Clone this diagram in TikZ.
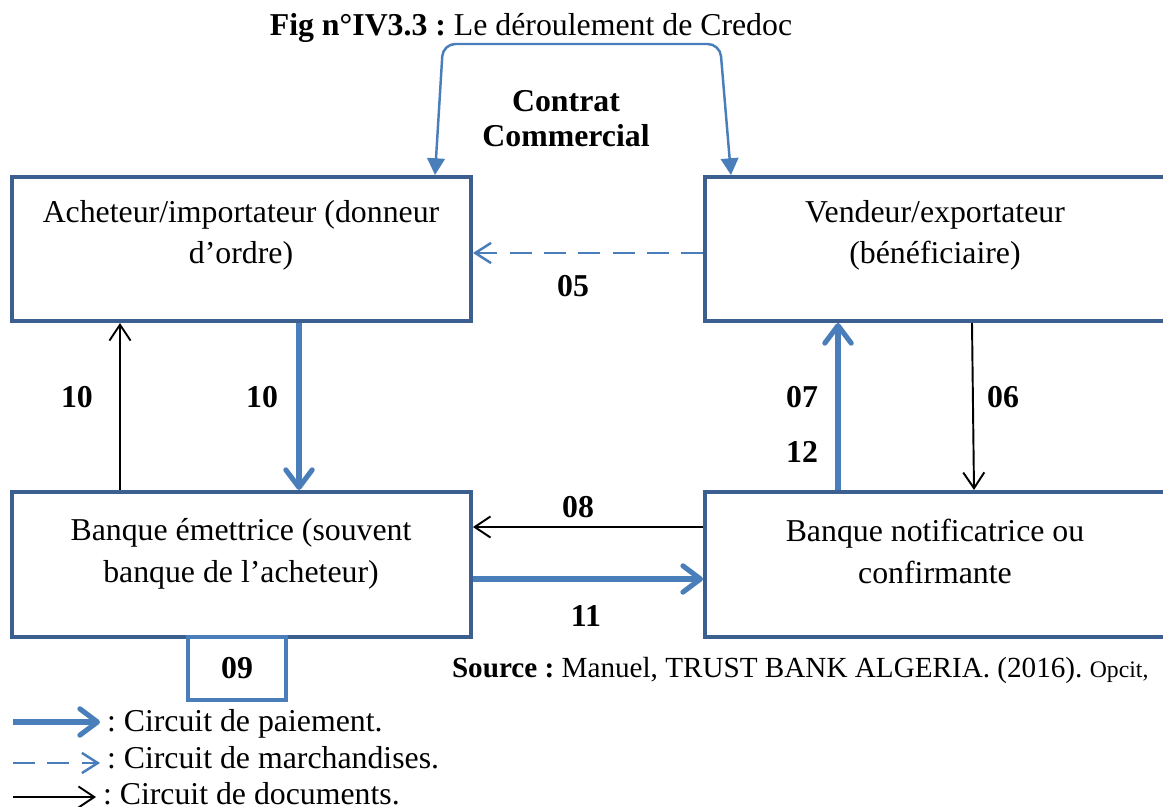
\documentclass[tikz,border=0pt]{standalone}
\usepackage{fontspec}
\setmainfont{Liberation Serif}
\usetikzlibrary{arrows.meta}
\definecolor{boxblue}{RGB}{59,95,142}
\definecolor{flowblue}{RGB}{74,126,187}
\frenchspacing

\begin{document}
\begin{tikzpicture}[x=0.02cm,y=-0.02cm,
  every node/.style={font=\fontsize{18.1}{23.5}\selectfont, inner sep=0pt, outer sep=0pt},
  party/.style={draw=boxblue, line width=2.3pt, rectangle, minimum height=2.88cm, outer sep=1.15pt},
  num/.style={font=\fontsize{18.1}{23.5}\selectfont\bfseries},
  pay/.style={draw=flowblue, line width=2.9pt, -{Straight Barb[length=10pt,width=15pt,round]}},
  goods/.style={draw=flowblue, line width=1.4pt, dash pattern=on 12.5pt off 7pt, -{Straight Barb[length=9pt,width=11.5pt]}},
  docs/.style={draw=black, line width=1.1pt, -{Straight Barb[length=9pt,width=12pt]}},
  contract/.style={draw=flowblue, line width=1.4pt, rounded corners=7pt, {Triangle[length=9.5pt,width=10pt]}-{Triangle[length=9.5pt,width=10pt]}}
]
\path[use as bounding box] (0,0) rectangle (1163,807);
\clip (0,0) rectangle (1163,807);

% the four parties
\node[party, minimum width=9.18cm] (ach) at (241.5,249) {};
\node[party, minimum width=9.22cm] (ven) at (935.5,249) {};
\node[party, minimum width=9.18cm, minimum height=2.9cm] (emet) at (241.5,564.5) {};
\node[party, minimum width=9.22cm, minimum height=2.9cm] (notif) at (935.5,564.5) {};

% (base anchor of a two-line node sits on its last line)
\node[anchor=base, align=center] (achT) at (241,264) {Acheteur/importateur (donneur\\d’ordre)};
\node[anchor=base, align=center] (venT) at (935,264) {Vendeur/exportateur\\(bénéficiaire)};
\node[anchor=base, align=center] (emetT) at (241,582) {Banque émettrice (souvent\\banque de l’acheteur)};
\node[anchor=base, align=center] (notifT) at (935,583) {Banque notificatrice ou\\confirmante};

% step 09 box under the issuing bank
\node[draw=flowblue, line width=2pt, minimum width=1.96cm, minimum height=1.26cm, num] (b09) at (237,668.5) {09};

% title and contract
\node[anchor=base] (title) at (531,36) {\textbf{Fig n°IV3.3 :} Le déroulement de Credoc};
\node[num, align=center, font=\fontsize{18.1}{19.8}\selectfont\bfseries] (ctr) at (566,119) {Contrat\\Commercial};
\draw[contract] (435,0 |- ach.north) -- (443,44) -- (720,44) -- (731,0 |- ven.north);

% flows
\draw[goods] (ven.west |- 0,253) -- (ach.east |- 0,253);
\draw[docs] (120,0 |- emet.north) -- (120,0 |- ach.south);
\draw[pay] (299,0 |- ach.south) -- (299,0 |- emet.north);
\draw[pay] (838,0 |- notif.north) -- (838,0 |- ven.south);
\draw[docs] (972,0 |- ven.south) -- (974,0 |- notif.north);
\draw[docs] (notif.west |- 0,527) -- (emet.east |- 0,527);
\draw[pay] (emet.east |- 0,579) -- (notif.west |- 0,579);

% step numbers
\node[num] (n05) at (573,286) {05};
\node[num] (n10a) at (77,397) {10};
\node[num] (n10b) at (262,397) {10};
\node[num] (n07) at (802,397) {07};
\node[num] (n12) at (802,452) {12};
\node[num] (n06) at (1003,397) {06};
\node[num] (n08) at (578,507) {08};
\node[num] (n11) at (586,616) {11};

% source
\node[anchor=base west] (src) at (452,677) {\fontsize{16.6}{20}\selectfont\textbf{Source :} Manuel, TRUST BANK ALGERIA. (2016). {\fontsize{13.5}{16}\selectfont Opcit,}};

% legend
\coordinate (lp0) at (13,722);
\coordinate (lp1) at (100,722);
\coordinate (lg0) at (13,763);
\coordinate (lg1) at (100,763);
\coordinate (ld0) at (13,797);
\coordinate (ld1) at (96,797);
\draw[pay] (lp0) -- (lp1);
\draw[goods] (lg0) -- (lg1);
\draw[docs] (ld0) -- (ld1);
\node[anchor=base west] (lpT) at (107,731) {: Circuit de paiement.};
\node[anchor=base west] (lgT) at (107,768) {: Circuit de marchandises.};
\node[anchor=base west] (ldT) at (103,804) {: Circuit de documents.};
\end{tikzpicture}
\end{document}
